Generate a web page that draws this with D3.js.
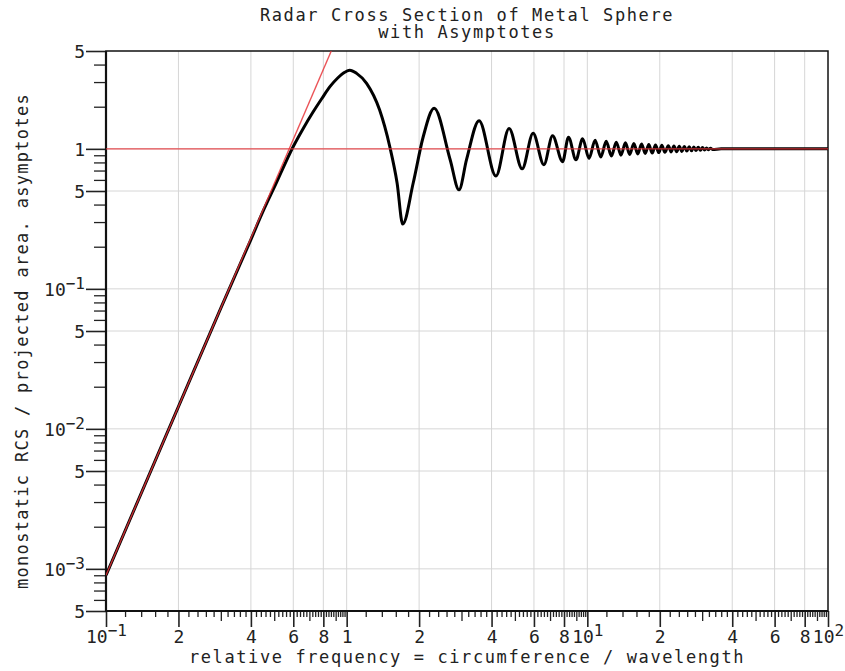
<!DOCTYPE html>
<html>
<head>
<meta charset="utf-8">
<script src="https://cdn.jsdelivr.net/npm/d3@7"></script>
<style>
  body { margin: 0; background: #fff; }
  svg { display: block; }
  text { font-family: "DejaVu Sans Mono", monospace; fill: #222; }
</style>
</head>
<body>
<svg id="chart"></svg>
<script>
// relative frequency (circumference / wavelength) and RCS / projected area
const freq = [0.1, 0.15, 0.2, 0.3, 0.4, 0.45, 0.5, 0.6, 0.66, 0.726, 0.79, 0.852, 0.92, 0.97, 1.03, 1.1, 1.21, 1.37, 1.51, 1.62, 1.71,
  1.89, 2.08, 2.31, 2.69, 2.93, 3.15, 3.55, 4.17, 4.73, 5.36, 5.95, 6.60, 7.17, 7.89, 8.35, 8.97,
  9.56, 10.17, 10.77, 11.38, 11.98, 12.59, 13.19, 13.8, 14.4, 15.0, 15.6, 16.2, 16.8, 17.4,
  18.0, 18.6, 19.2, 19.8, 20.4, 21.0, 21.7, 22.3, 22.9, 23.5, 24.1, 24.7, 25.3, 25.9,
  26.5, 27.1, 27.7, 28.3, 28.9, 29.5, 30.1, 30.7, 31.3, 31.9, 32.5, 33.1, 36, 50, 100];
const rcs = [0.0009, 0.00456, 0.0144, 0.0729, 0.225, 0.36, 0.53, 1.04, 1.40, 1.84, 2.30, 2.78, 3.22, 3.48, 3.65, 3.46, 2.94, 1.90, 1.04, 0.57, 0.29,
  0.57, 1.22, 1.95, 0.84, 0.51, 0.84, 1.59, 0.64, 1.40, 0.72, 1.29, 0.77, 1.24, 0.81, 1.21, 0.836,
  1.180, 0.855, 1.153, 0.875, 1.132, 0.889, 1.117, 0.902, 1.104, 0.910, 1.094, 0.918, 1.084, 0.927,
  1.074, 0.933, 1.067, 0.940, 1.059, 0.946, 1.054, 0.951, 1.050, 0.955, 1.045, 0.959, 1.040, 0.964,
  1.035, 0.968, 1.030, 0.973, 1.026, 0.977, 1.021, 0.982, 1.016, 0.986, 1.012, 0.99, 1.0, 1.0, 1.0];

// asymptotes: Rayleigh line and optical limit
const rayleighX = [0.1, 0.863];
const rayleighY = [0.0009, 5];
const opticalX = [0.1, 100];
const opticalY = [1, 1];

// axis ticks
const xLabelTicks = [0.1, 0.2, 0.4, 0.6, 0.8, 1, 2, 4, 6, 8, 10, 20, 40, 60, 80, 100];
const xLabels = ["10^-1", "2", "4", "6", "8", "1", "2", "4", "6", "8", "10^1", "2", "4", "6", "8", "10^2"];
const xGrid = [0.2, 0.4, 0.6, 0.8, 1, 2, 4, 6, 8, 10, 20, 40, 60, 80];
const yLabelTicks = [5, 1, 0.5, 0.1, 0.05, 0.01, 0.005, 0.001, 0.0005];
const yLabels = ["5", "1", "5", "10^-1", "5", "10^-2", "5", "10^-3", "5"];
const yGrid = [1, 0.5, 0.1, 0.05, 0.01, 0.005, 0.001];
const decades = [0.1, 1, 10];

const width = 845, height = 671;
const margin = { top: 51, right: 17, bottom: 60, left: 106 };
const innerWidth = width - margin.left - margin.right;
const innerHeight = height - margin.top - margin.bottom;

const svg = d3.select("#chart")
  .attr("width", width)
  .attr("height", height);

const g = svg.append("g")
  .attr("transform", `translate(${margin.left},${margin.top})`);

const x = d3.scaleLog().domain([0.1, 100]).range([0, innerWidth]);
const y = d3.scaleLog().domain([0.0005, 5]).range([innerHeight, 0]);

// grid
g.append("g").selectAll("line")
  .data(xGrid)
  .join("line")
  .attr("x1", d => x(d)).attr("x2", d => x(d))
  .attr("y1", 0).attr("y2", innerHeight)
  .attr("stroke", "#d6d6d6").attr("stroke-width", 1);

g.append("g").selectAll("line")
  .data(yGrid)
  .join("line")
  .attr("x1", 0).attr("x2", innerWidth)
  .attr("y1", d => y(d)).attr("y2", d => y(d))
  .attr("stroke", "#d6d6d6").attr("stroke-width", 1);

// minor tick values: steps of 0.2 per decade (odd integers get a longer tick)
const xMinor = [], xMedium = [];
decades.forEach(dec => {
  for (let k = 1.2; k < 9.99; k += 0.2) {
    const v = +(k * dec).toFixed(4);
    const r = Math.round(k * 10) / 10;
    if ([2, 4, 6, 8].includes(r)) continue;
    if ([3, 5, 7, 9].includes(r)) xMedium.push(v); else xMinor.push(v);
  }
});
const yMinor = [];
[0.0001, 0.001, 0.01, 0.1, 1].forEach(dec => {
  [2, 3, 4, 6, 7, 8, 9].forEach(k => {
    const v = +(k * dec).toPrecision(3);
    if (v > 0.0005 && v < 5) yMinor.push(v);
  });
});

function styleAxis(sel, w) {
  sel.select(".domain").remove();
  sel.selectAll(".tick line").attr("stroke", "#222").attr("stroke-width", w);
}
function noText(sel) {
  sel.selectAll(".tick text").remove();
}

// x axis ticks
g.append("g").attr("transform", `translate(0,${innerHeight})`)
  .call(d3.axisBottom(x).tickValues(xMinor).tickSize(6).tickSizeOuter(0))
  .call(s => styleAxis(s, 1.3)).call(noText);
g.append("g").attr("transform", `translate(0,${innerHeight})`)
  .call(d3.axisBottom(x).tickValues(xMedium).tickSize(10).tickSizeOuter(0))
  .call(s => styleAxis(s, 1.3)).call(noText);
const xAxis = g.append("g").attr("transform", `translate(0,${innerHeight})`)
  .call(d3.axisBottom(x).tickValues(xLabelTicks).tickSize(16).tickSizeOuter(0).tickPadding(3)
    .tickFormat((d, i) => xLabels[i]))
  .call(s => styleAxis(s, 1.6));

// y axis ticks
g.append("g")
  .call(d3.axisLeft(y).tickValues(yMinor).tickSize(12).tickSizeOuter(0))
  .call(s => styleAxis(s, 1.3)).call(noText);
const yAxis = g.append("g")
  .call(d3.axisLeft(y).tickValues(yLabelTicks).tickSize(20).tickSizeOuter(0).tickPadding(1)
    .tickFormat((d, i) => yLabels[i]))
  .call(s => styleAxis(s, 1.6));

// tick label text with superscript exponents
function superscript(sel) {
  sel.selectAll(".tick text").each(function() {
    const t = d3.select(this);
    const s = t.text();
    t.attr("font-family", "DejaVu Sans Mono, monospace")
      .attr("font-size", 18)
      .attr("fill", "#222");
    if (s.includes("^")) {
      const [base, exp] = s.split("^");
      t.text(null);
      t.append("tspan").text(base);
      t.append("tspan").attr("dy", "-0.45em").attr("font-size", 16).text(exp.replace("-", "\u2212"));
    }
  });
}
xAxis.call(superscript);
yAxis.call(superscript);
yAxis.selectAll(".tick text").attr("dy", "0.36em");

// frame
g.append("rect")
  .attr("width", innerWidth).attr("height", innerHeight)
  .attr("fill", "none").attr("stroke", "#111").attr("stroke-width", 1.5);
g.append("line").attr("x1", 0).attr("x2", 0).attr("y1", 0).attr("y2", innerHeight)
  .attr("stroke", "#111").attr("stroke-width", 2.2);
g.append("line").attr("x1", 0).attr("x2", innerWidth).attr("y1", innerHeight).attr("y2", innerHeight)
  .attr("stroke", "#111").attr("stroke-width", 2.2);

// clip for data
svg.append("defs").append("clipPath").attr("id", "plot-clip")
  .append("rect").attr("width", innerWidth).attr("height", innerHeight);

const plot = g.append("g").attr("clip-path", "url(#plot-clip)");

const rcsLine = d3.line()
  .x(d => x(d[0]))
  .y(d => y(d[1]))
  .curve(d3.curveMonotoneX);

plot.append("path")
  .datum(freq.map((f, i) => [f, rcs[i]]))
  .attr("d", rcsLine)
  .attr("fill", "none")
  .attr("stroke", "#000")
  .attr("stroke-width", 3)
  .attr("stroke-linejoin", "round");

const straight = d3.line().x(d => x(d[0])).y(d => y(d[1]));
[[rayleighX, rayleighY], [opticalX, opticalY]].forEach(([xs, ys]) => {
  plot.append("path")
    .datum(xs.map((v, i) => [v, ys[i]]))
    .attr("d", straight)
    .attr("fill", "none")
    .attr("stroke", "#e8353a")
    .attr("stroke-opacity", 0.85)
    .attr("stroke-width", 1.4);
});

// titles
const cx = margin.left + innerWidth / 2;
svg.append("text")
  .attr("x", cx).attr("y", 21)
  .attr("text-anchor", "middle")
  .attr("font-size", 17).attr("letter-spacing", 1.6)
  .text("Radar Cross Section of Metal Sphere");
svg.append("text")
  .attr("x", cx).attr("y", 38)
  .attr("text-anchor", "middle")
  .attr("font-size", 17).attr("letter-spacing", 1.6)
  .text("with Asymptotes");

svg.append("text")
  .attr("x", cx).attr("y", 663)
  .attr("text-anchor", "middle")
  .attr("font-size", 17).attr("letter-spacing", 1.6)
  .text("relative frequency = circumference / wavelength");

svg.append("text")
  .attr("transform", `translate(28,341) rotate(-90)`)
  .attr("text-anchor", "middle")
  .attr("font-size", 17).attr("letter-spacing", 1.3)
  .text("monostatic RCS / projected area. asymptotes");
</script>
</body>
</html>
